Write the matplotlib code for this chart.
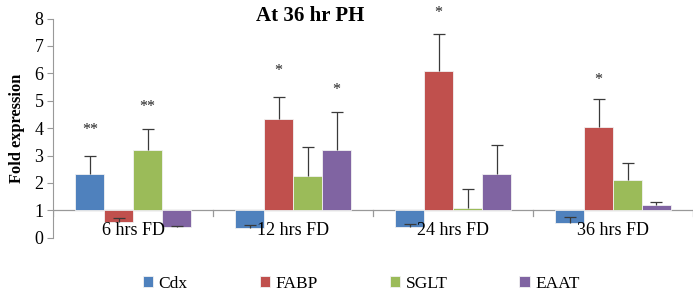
import matplotlib
matplotlib.use("Agg")
import matplotlib.pyplot as plt
import numpy as np

# data (fold expression, baseline 1)
categories = ["6 hrs FD", "12 hrs FD", "24 hrs FD", "36 hrs FD"]
series = ["Cdx", "FABP", "SGLT", "EAAT"]
cdx = [2.33, 0.35, 0.40, 0.54]
fabp = [0.56, 4.33, 6.08, 4.03]
sglt = [3.21, 2.24, 1.10, 2.10]
eaat = [0.40, 3.19, 2.32, 1.19]
cdx_err = [0.67, 0.10, 0.10, 0.21]
fabp_err = [0.17, 0.79, 1.36, 1.02]
sglt_err = [0.75, 1.07, 0.67, 0.61]
eaat_err = [0.02, 1.39, 1.05, 0.11]
# significance marks: (category, series, label, height)
stars = [(0, 0, "**", 3.93), (0, 2, "**", 4.77),
         (1, 1, "*", 6.1), (1, 3, "*", 5.4),
         (2, 1, "*", 8.2), (3, 1, "*", 5.75)]

colors = ["#4F81BD", "#C0504D", "#9BBB59", "#8064A2"]
values = [cdx, fabp, sglt, eaat]
errors = [cdx_err, fabp_err, sglt_err, eaat_err]

plt.rcParams["font.family"] = ["Liberation Serif", "DejaVu Serif"]

fig = plt.figure(figsize=(7, 2.99), dpi=100)
ax = fig.add_axes([0.076, 0.205, 0.914, 0.733])

x = np.arange(len(categories))
w = 0.181
base = 1.0
for k, (name, vals, errs) in enumerate(zip(series, values, errors)):
    pos = x + (k - 1.5) * w
    heights = [v - base for v in vals]
    ax.bar(pos, heights, w, bottom=base, color=colors[k], edgecolor="#f2f2f2",
           linewidth=0.6, label=name, zorder=2)
    eb = ax.errorbar(pos, vals, yerr=[np.zeros(len(errs)), errs], fmt="none",
                     ecolor="#3a3a3a", elinewidth=0.9, capsize=4, capthick=0.9,
                     zorder=3)
    # plus-only error bars: hide the cap sitting on the bar end
    eb[1][0].set_visible(False)

for ci, si, lab, h in stars:
    ax.text(x[ci] + (si - 1.5) * w, h, lab, ha="center", va="center",
            fontsize=11.5, color="#222222", clip_on=False)

# horizontal category axis crosses at 1
ax.axhline(base, color="#999999", lw=0.9, zorder=1)
for b in np.arange(-0.5, len(categories), 1.0):
    ax.plot([b, b], [base, base - 0.22], color="#999999", lw=0.9, zorder=1)
for i, c in enumerate(categories):
    ax.text(x[i], 0.27, c, ha="center", va="center", fontsize=13, zorder=4)

ax.set_xlim(-0.5, len(categories) - 0.5)
ax.set_ylim(0, 8)
ax.set_xticks([])
ax.set_yticks(range(0, 9))
ax.tick_params(axis="y", labelsize=13, length=4, color="#999999", pad=3)
for s in ["top", "right", "bottom"]:
    ax.spines[s].set_visible(False)
ax.spines["left"].set_color("#999999")
ax.set_ylabel("Fold expression", fontsize=11.8, fontweight="bold", labelpad=7)

fig.text(0.443, 0.945, "At 36 hr PH", ha="center", va="center",
         fontsize=15, fontweight="bold")

fig.legend(loc="center", bbox_to_anchor=(0.516, 0.05), ncol=4, frameon=False,
           fontsize=12.5, handlelength=0.6, handleheight=0.6, handletextpad=0.3,
           columnspacing=4.15)

fig.savefig("out.png", dpi=100)
